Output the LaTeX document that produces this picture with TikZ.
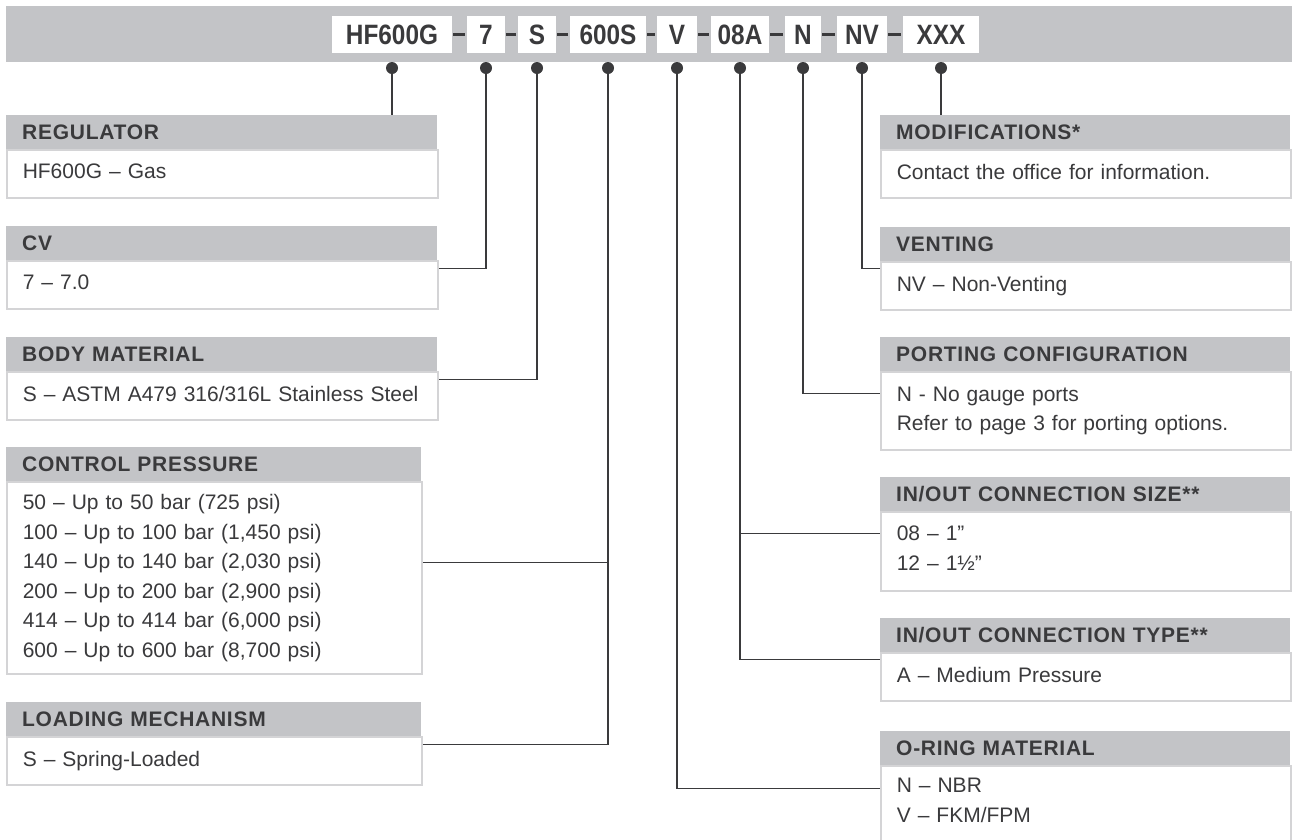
\documentclass[tikz,border=0pt]{standalone}
\usepackage{fontspec}
\setmainfont{Liberation Sans}
\newfontfamily\codefont[FakeStretch=0.87]{Liberation Sans}
\newfontfamily\headfont[LetterSpace=3.5]{Liberation Sans}
\usetikzlibrary{calc,positioning}
\definecolor{ink}{HTML}{3A3A3C}
\definecolor{band}{HTML}{C3C4C7}
\definecolor{rim}{HTML}{D4D4D6}
\tikzset{
  code/.style={fill=white, inner sep=0pt, minimum height=37pt, text=ink,
    font=\codefont\bfseries\fontsize{28}{30}\selectfont},
  head/.style={fill=band, anchor=north west, inner xsep=16pt, inner ysep=0pt,
    minimum height=34pt, text width=#1, align=left, text=ink,
    font=\headfont\bfseries\fontsize{21}{24}\selectfont},
  body/.style={draw=rim, line width=1.5pt, fill=white, anchor=north west,
    inner xsep=16pt, inner ysep=0pt, text width=#1, align=left, text=ink,
    font=\fontsize{21}{29.5}\selectfont},
  one/.style={minimum height=48pt, text depth=5pt},
  dot/.style={circle, fill=ink, inner sep=0pt, minimum size=12pt},
  wire/.style={draw=ink, line width=1.4pt},
  sep/.style={draw=ink, line width=3pt},
}

\begin{document}
\begin{tikzpicture}[x=1pt,y=-1pt]
  \useasboundingbox (0,0) rectangle (1292,839);
  % part number band
  \fill[band] (6,6) rectangle (1292,62);
  \foreach \n/\t/\x/\w in {cHF/HF600G/392/120, cCV/7/486/38, cBM/S/537/38,
      cCP/600S/608/76, cOR/V/677/40, cCS/08A/740/58, cPC/N/803/36,
      cVE/NV/862/50, cMO/XXX/941/76}{
    \node[code, minimum width=\w pt] (\n) at (\x,34.5) {\t};
    \node[dot] (d\n) at (\x,68) {};
  }
  \foreach \a/\b in {cHF/cCV, cCV/cBM, cBM/cCP, cCP/cOR, cOR/cCS, cCS/cPC,
      cPC/cVE, cVE/cMO}
    \draw[sep] ([xshift=1pt]\a.east) -- ([xshift=-2pt]\b.west);

  % left column
  \node[head=399pt] (regH) at (6,115) {REGULATOR};
  \node[body=399pt, one] (reg) at (regH.south west) {HF600G – Gas};
  \node[head=399pt] (cvH) at (6,226) {CV};
  \node[body=399pt, one] (cv) at (cvH.south west) {7 – 7.0};
  \node[head=399pt] (bmH) at (6,337) {BODY MATERIAL};
  \node[body=399pt, one] (bm) at (bmH.south west)
    {\mbox{S – ASTM A479 316/316L Stainless Steel}};
  \node[head=383pt] (cpH) at (6,447) {CONTROL PRESSURE};
  \node[body=383pt, minimum height=192pt] (cp) at (cpH.south west)
    {50 – Up to 50 bar (725 psi)\\100 – Up to 100 bar (1,450 psi)\\
     140 – Up to 140 bar (2,030 psi)\\200 – Up to 200 bar (2,900 psi)\\
     414 – Up to 414 bar (6,000 psi)\\600 – Up to 600 bar (8,700 psi)};
  \node[head=383pt] (lmH) at (6,702) {LOADING MECHANISM};
  \node[body=383pt, one] (lm) at (lmH.south west) {S – Spring-Loaded};

  % right column
  \node[head=378pt] (moH) at (880,115) {MODIFICATIONS*};
  \node[body=378pt, one] (mo) at (moH.south west)
    {Contact the office for information.};
  \node[head=378pt] (veH) at (880,227) {VENTING};
  \node[body=378pt, one] (ve) at (veH.south west) {NV – Non-Venting};
  \node[head=378pt] (pcH) at (880,337) {PORTING CONFIGURATION};
  \node[body=378pt, minimum height=78pt] (pc) at (pcH.south west)
    {N - No gauge ports\\Refer to page 3 for porting options.};
  \node[head=378pt] (csH) at (880,477) {IN/OUT CONNECTION SIZE**};
  \node[body=378pt, minimum height=79pt, text depth=36pt] (cs) at (csH.south west)
    {08 – 1”\\12 – 1½”};
  \node[head=378pt] (ctH) at (880,618) {IN/OUT CONNECTION TYPE**};
  \node[body=378pt, one] (ct) at (ctH.south west) {A – Medium Pressure};
  \node[head=378pt] (orH) at (880,731) {O-RING MATERIAL};
  \node[body=378pt, minimum height=80pt, text depth=41pt] (or) at (orH.south west)
    {N – NBR\\V – FKM/FPM};

  % connectors
  \coordinate (cpT) at ([yshift=-81pt]cp.north east);
  \coordinate (csT) at ([yshift=-22pt]cs.north west);
  \draw[wire] (dcHF) -- (dcHF |- regH.north);
  \draw[wire] (dcCV) |- ([yshift=-8pt]cv.north east);
  \draw[wire] (dcBM) |- ([yshift=-8pt]bm.north east);
  \draw[wire] (dcCP) |- ([yshift=-8pt]lm.north east);
  \draw[wire] (dcCP |- cpT) -- (cpT);
  \draw[wire] (dcOR) |- ([yshift=-23pt]or.north west);
  \draw[wire] (dcCS) |- ([yshift=-7pt]ct.north west);
  \draw[wire] (dcCS |- csT) -- (csT);
  \draw[wire] (dcPC) |- ([yshift=-22pt]pc.north west);
  \draw[wire] (dcVE) |- ([yshift=-7pt]ve.north west);
  \draw[wire] (dcMO) -- (dcMO |- moH.north);
\end{tikzpicture}
\end{document}
